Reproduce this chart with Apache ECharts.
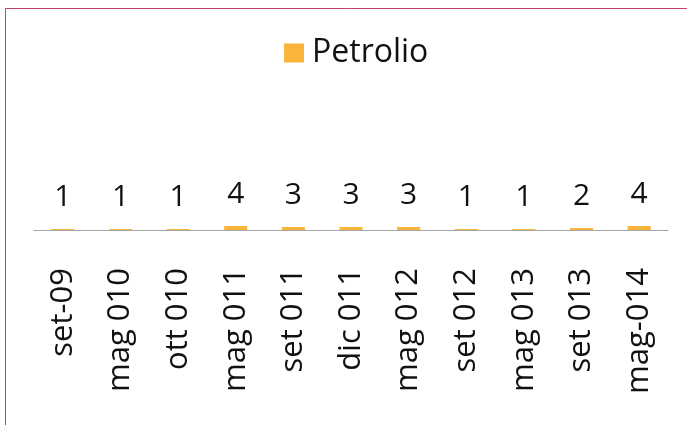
<!DOCTYPE html>
<html>
<head>
<meta charset="utf-8">
<script src="https://cdn.jsdelivr.net/npm/echarts@6/dist/echarts.min.js"></script>
<style>
    html,body{
        margin: 0;
        padding: 0;
        background: #fff;
    }
    .chart{
        width: 687px;
        height: 425px;
    }
</style>
</head>
<body>
<div class="chart" id="chart"></div>
<script>
    // dati
    const categories = ['set-09', 'mag 010', 'ott 010', 'mag 011', 'set 011', 'dic 011', 'mag 012', 'set 012', 'mag 013', 'set 013', 'mag-014']
    const petrolio = [1, 1, 1, 4, 3, 3, 3, 1, 1, 2, 4]
    const seriesName = 'Petrolio'

    const font = '"Open Sans", "Noto Sans", sans-serif'
    var myChart = echarts.init(document.getElementById('chart'))
    const option = {
        animation: false,
        graphic: [
            {
                type: 'rect',
                shape: { x: 5.5, y: 8.5, width: 800, height: 600 },
                style: { fill: 'none', stroke: '#c3416b', lineWidth: 1 },
                silent: true
            }
        ],
        legend: {
            data: [seriesName],
            top: 32,
            left: 279,
            itemWidth: 20,
            itemHeight: 19,
            itemGap: 8,
            icon: 'rect',
            textStyle: {
                fontFamily: font,
                fontSize: 32,
                color: '#111',
                padding: [0, 0, 0, 3]
            }
        },
        grid: {
            left: 34,
            right: 19,
            top: 60,
            bottom: 195
        },
        xAxis: {
            type: 'category',
            data: categories,
            axisLine: {
                lineStyle: { color: '#a6a6a6', width: 1 }
            },
            axisTick: { show: false },
            axisLabel: {
                rotate: 90,
                margin: 38,
                interval: 0,
                fontFamily: font,
                fontSize: 31,
                color: '#111'
            }
        },
        yAxis: {
            type: 'value',
            min: 0,
            max: 170,
            show: false,
            splitLine: { show: false }
        },
        series: [
            {
                name: seriesName,
                type: 'bar',
                data: petrolio,
                barWidth: '40%',
                itemStyle: { color: '#f9b53b' },
                label: {
                    show: true,
                    position: 'top',
                    distance: 17,
                    fontFamily: font,
                    fontSize: 30,
                    color: '#111'
                }
            }
        ]
    }
    myChart.setOption(option)
</script>
</body>
</html>
